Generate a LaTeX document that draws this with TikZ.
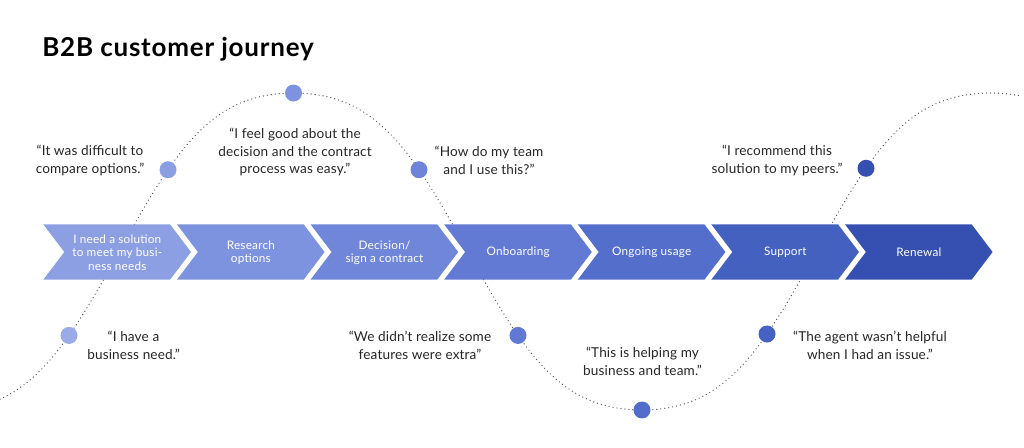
\documentclass[tikz,border=0pt]{standalone}
\usepackage{fontspec}
\setmainfont{Lato}
\definecolor{ink}{HTML}{262626}
\definecolor{dotline}{HTML}{555555}
\definecolor{cA}{HTML}{8C9FE3}
\definecolor{cB}{HTML}{7D93DF}
\definecolor{cC}{HTML}{6F86D9}
\definecolor{cD}{HTML}{627AD3}
\definecolor{cE}{HTML}{546ECB}
\definecolor{cF}{HTML}{4561C0}
\definecolor{cG}{HTML}{3550B0}
\definecolor{dA}{HTML}{9AABE7}
\definecolor{dB}{HTML}{8A9EE2}
\definecolor{dC}{HTML}{7D93E0}
\definecolor{dD}{HTML}{6D84D8}
\definecolor{dE}{HTML}{6079D3}
\definecolor{dF}{HTML}{526ECB}
\definecolor{dG}{HTML}{4562C2}
\definecolor{dH}{HTML}{3550B0}
\begin{document}
\begin{tikzpicture}[x=0.75pt,y=-0.75pt,
  declare function={wv(\t)=251.5-158.5*(cos((\t-293.5)*0.516499)-0.061*cos(3*(\t-293.5)*0.516499))/0.939;},
  quote/.style={align=center,text=ink,font=\fontsize{10.2}{13.3}\selectfont\addfontfeatures{LetterSpace=1}},
  chevlabel/.style={align=center,text=white,font=\fontsize{8.8}{10.1}\selectfont\addfontfeatures{LetterSpace=2}},
  moment/.style={circle,inner sep=0pt,minimum size=12.75pt,fill=#1},
  wave/.style={dotline,line width=1pt,line cap=round,dash pattern=on 0pt off 3pt}]
\useasboundingbox (0,0) rectangle (1024,447);
% title
\node[anchor=base west,inner sep=0pt,text=black,font=\fontsize{19.5}{22}\selectfont\bfseries\addfontfeatures{LetterSpace=3}] (title) at (42,56) {B2B customer journey};
% dotted journey line
\draw[wave] plot[domain=0:1022,samples=180,smooth] (\x,{wv(\x)});
% chevrons
\foreach \i/\c in {0/cA,1/cB,2/cC,3/cD,4/cE,5/cF,6/cG}{
  \pgfmathsetmacro{\xa}{43.3+133.6*\i}
  \fill[\c] (\xa,224.3) -- ++(126.7,0) -- ++(21,27.7) -- ++(-21,27.7) -- ++(-126.7,0) -- ++(21,-27.7) -- cycle;
}
\node[chevlabel,inner sep=0pt] (s1) at (117.3,252.5) {I need a solution\\to meet my busi-\\ness needs};
\node[chevlabel,inner sep=0pt] (s2) at (250.9,252.5) {Research\\options};
\node[chevlabel,inner sep=0pt] (s3) at (384.5,252.5) {Decision/\\sign a contract};
\node[chevlabel,inner sep=0pt] (s4) at (518.1,252.5) {Onboarding};
\node[chevlabel,inner sep=0pt] (s5) at (651.7,252.5) {Ongoing usage};
\node[chevlabel,inner sep=0pt] (s6) at (785.3,252.5) {Support};
\node[chevlabel,inner sep=0pt] (s7) at (918.9,252.5) {Renewal};
% moments
\node[moment=dA] (m1) at (69,{wv(69)}) {};
\node[moment=dB] (m2) at (168,{wv(168)}) {};
\node[moment=dC] (m3) at (293.5,{wv(293.5)}) {};
\node[moment=dD] (m4) at (419,{wv(419)}) {};
\node[moment=dE] (m5) at (518,{wv(518)}) {};
\node[moment=dF] (m6) at (642,{wv(642)}) {};
\node[moment=dG] (m7) at (767,{wv(767)}) {};
\node[moment=dH] (m8) at (866,{wv(866)}) {};
% quotes
\node[quote,inner sep=0pt] (q1) at (133.5,345) {“I have a\\business need.”};
\node[quote,inner sep=0pt] (q2) at (90,160.5) {“It was difficult to\\compare options.”};
\node[quote,inner sep=0pt] (q3) at (295,152) {“I feel good about the\\decision and the contract\\process was easy.”};
\node[quote,inner sep=0pt] (q4) at (489,160.5) {“How do my team\\and I use this?”};
\node[quote,inner sep=0pt] (q5) at (420,345) {“We didn’t realize some\\features were extra”};
\node[quote,inner sep=0pt] (q6) at (642.5,361.5) {“This is helping my\\business and team.”};
\node[quote,inner sep=0pt] (q7) at (870,345) {“The agent wasn’t helpful\\when I had an issue.”};
\node[quote,inner sep=0pt] (q8) at (777,160.5) {“I recommend this\\solution to my peers.”};
\end{tikzpicture}
\end{document}
